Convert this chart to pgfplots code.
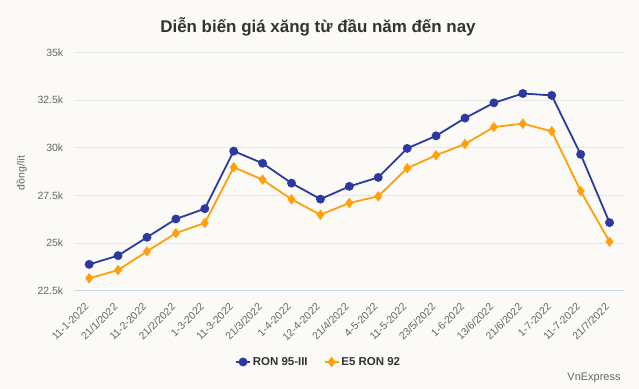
\documentclass[border=0pt]{standalone}
\usepackage{fontspec}
\setmainfont{Liberation Sans}
\usepackage{pgfplots}
\pgfplotsset{compat=1.18}
\definecolor{bg}{HTML}{FBFAF6}
\definecolor{ronblue}{RGB}{44,58,160}
\definecolor{e5orange}{RGB}{255,160,10}
\definecolor{gridc}{HTML}{E6E6E6}
\definecolor{axisc}{HTML}{CCD6EB}
\definecolor{txt}{HTML}{666666}
\definecolor{ttl}{HTML}{333333}
\begin{document}
\begin{tikzpicture}
\fill[bg] (0bp,0bp) rectangle (639bp,389bp);
\node[font=\bfseries\fontsize{17}{20}\selectfont, text=ttl] at (318bp,362bp) {Diễn biến giá xăng từ đầu năm đến nay};
\node[anchor=east, font=\fontsize{11}{13}\selectfont, text=txt] at (624bp,11bp) {VnExpress};
\begin{axis}[
  at={(74.7bp,98.3bp)}, anchor=south west,
  scale only axis, width=549.3bp, height=238.4bp,
  xmin=-0.5, xmax=18.5, ymin=22500, ymax=35000,
  enlargelimits=false, scaled y ticks=false,
  axis x line*=bottom, axis y line*=left,
  y axis line style={draw=none},
  x axis line style={axisc, -, line width=0.9bp},
  major tick length=0pt, tick style={draw=none},
  ymajorgrids, major grid style={gridc, line width=0.9bp},
  ytick={22500,25000,27500,30000,32500,35000},
  yticklabels={22.5k,25k,27.5k,30k,32.5k,35k},
  xtick={0,...,18},
  xticklabels={11-1-2022,21/1/2022,11-2-2022,21/2/2022,1-3-2022,11-3-2022,21/3/2022,1-4-2022,12-4-2022,21/4/2022,4-5-2022,11-5-2022,23/5/2022,1-6-2022,13/6/2022,21/6/2022,1-7-2022,11-7-2022,21/7/2022},
  /pgf/number format/assume math mode=true,
  yticklabel style={font=\fontsize{10.5}{12}\selectfont, text=txt, xshift=-8bp},
  xticklabel style={font=\fontsize{10.5}{12}\selectfont, text=txt, rotate=45, anchor=east},
  xticklabel shift=12bp,
  ylabel={đồng/lít},
  every axis y label/.style={at={(axis description cs:-0.0965,0.494)}, rotate=90, anchor=center, font=\fontsize{10.5}{12}\selectfont, text=txt},
  legend style={at={(axis description cs:0.444,-0.299)}, anchor=center, draw=none, fill=none,
    font=\bfseries\fontsize{11.5}{13}\selectfont, text=ttl,
    /tikz/every even column/.append style={column sep=14bp}},
  legend columns=2,
  legend image code/.code={\draw[mark repeat=2,mark phase=2,#1] plot coordinates {(0bp,0bp) (7bp,0bp) (14bp,0bp)};},
]
\addplot[ronblue, line width=1.8bp, mark=*, mark size=3.5bp] table[x=i,y=v] {
i v
0 23880
1 24340
2 25300
3 26260
4 26800
5 29820
6 29180
7 28140
8 27300
9 27970
10 28440
11 29960
12 30620
13 31550
14 32350
15 32840
16 32740
17 29650
18 26070
};
\addlegendentry{RON 95-III}
\addplot[e5orange, line width=1.8bp, mark=diamond*, mark size=3.8bp] table[x=i,y=v] {
i v
0 23150
1 23580
2 24560
3 25520
4 26050
5 28970
6 28320
7 27290
8 26480
9 27100
10 27450
11 28920
12 29600
13 30190
14 31080
15 31260
16 30860
17 27730
18 25070
};
\addlegendentry{E5 RON 92}
\end{axis}
\end{tikzpicture}
\end{document}
